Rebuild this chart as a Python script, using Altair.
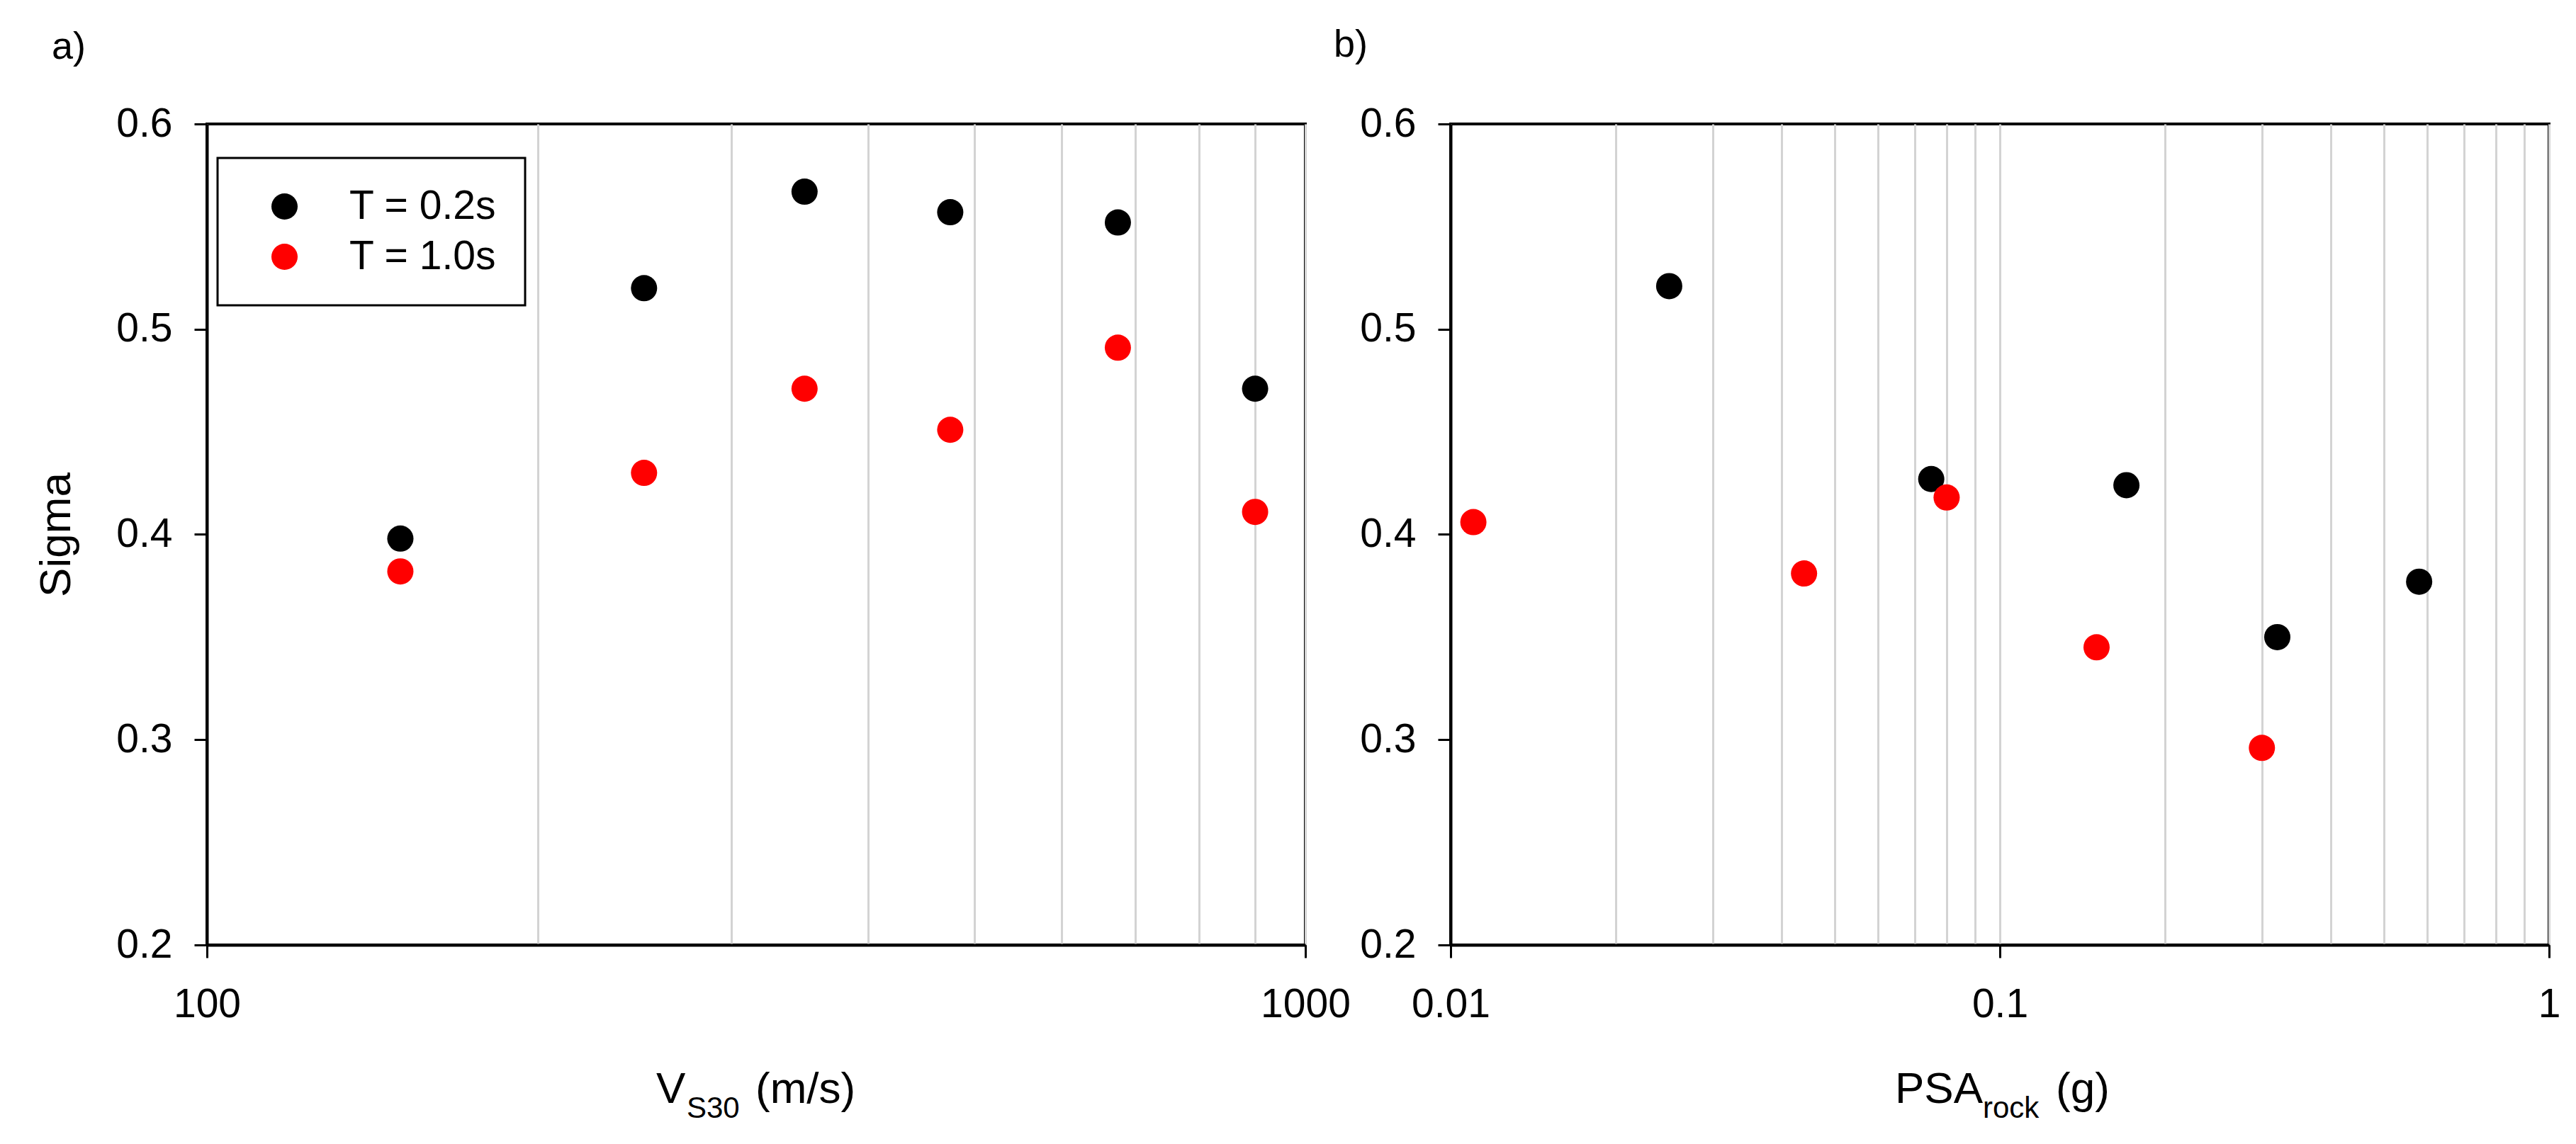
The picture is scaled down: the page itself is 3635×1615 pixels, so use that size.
import altair as alt
import pandas as pd

FONT = "Liberation Sans"

# ---- data ----
series = ["T = 0.2s", "T = 1.0s"]
colors = ["#000000", "#ff0000"]

vs30 = [150, 250, 350, 475, 675, 900]
sigma_vs30_t02 = [0.398, 0.520, 0.567, 0.557, 0.552, 0.471]
sigma_vs30_t10 = [0.382, 0.430, 0.471, 0.451, 0.491, 0.411]

psa_t02 = [0.025, 0.075, 0.17, 0.32, 0.58]
sigma_psa_t02 = [0.521, 0.427, 0.424, 0.350, 0.377]
psa_t10 = [0.011, 0.044, 0.08, 0.15, 0.30]
sigma_psa_t10 = [0.406, 0.381, 0.418, 0.345, 0.296]

y_ticks = [0.2, 0.3, 0.4, 0.5, 0.6]
vs30_grid = [100, 200, 300, 400, 500, 600, 700, 800, 900, 1000]
vs30_labels = [100, 1000]
psa_grid = [0.01, 0.02, 0.03, 0.04, 0.05, 0.06, 0.07, 0.08, 0.09,
            0.1, 0.2, 0.3, 0.4, 0.5, 0.6, 0.7, 0.8, 0.9, 1]
psa_labels = [0.01, 0.1, 1]

W, H = 1550, 1159
LBL = 57
TTL = 62
SUB = 42

df_a = pd.DataFrame({
    "x": vs30 + vs30,
    "y": sigma_vs30_t02 + sigma_vs30_t10,
    "series": [series[0]] * len(vs30) + [series[1]] * len(vs30),
})
df_b = pd.DataFrame({
    "x": psa_t02 + psa_t10,
    "y": sigma_psa_t02 + sigma_psa_t10,
    "series": [series[0]] * len(psa_t02) + [series[1]] * len(psa_t10),
})


def is_major(vals):
    return " || ".join(f"datum.value == {v}" for v in vals)


def x_axis(grid_vals, major_vals, fmt):
    test = is_major(major_vals)
    return alt.Axis(
        values=grid_vals, format=fmt,
        labelExpr=f"({test}) ? datum.label : ''",
        grid=True, gridColor="#d3d3d3", gridWidth=3,
        tickSize=18, tickWidth=3, tickColor="black",
        tickOpacity={"condition": {"test": test, "value": 1}, "value": 0},
        domainColor="black", domainWidth=4,
        labelFont=FONT, labelFontSize=LBL, labelColor="black",
        labelPadding=38, labelFlush=False, labelOverlap=False,
        title=None,
    )


def y_axis(title):
    kw = dict(
        values=y_ticks, format=".1f", grid=False,
        tickSize=18, tickWidth=3, tickColor="black",
        domainColor="black", domainWidth=4,
        labelFont=FONT, labelFontSize=LBL, labelColor="black",
        labelPadding=31, labelOverlap=False,
    )
    if title:
        kw.update(title=title, titleFont=FONT, titleFontSize=TTL,
                  titleFontWeight="normal", titleColor="black", titlePadding=52)
    else:
        kw.update(title=None)
    return alt.Axis(**kw)


color_scale = alt.Scale(domain=series, range=colors)

legend_a = alt.Legend(
    orient="none", legendX=15, legendY=48, title=None,
    padding=40, strokeColor="black", fillColor="white",
    symbolType="circle", symbolSize=1369, symbolOffset=26,
    symbolStrokeWidth=0, labelOffset=63, labelLimit=600,
    labelFont=FONT, labelFontSize=LBL, labelColor="black",
    rowPadding=13,
)


def text_piece(txt, x, y, size):
    return alt.Chart(pd.DataFrame({"t": [txt]})).mark_text(
        font=FONT, fontSize=size, align="left", baseline="alphabetic", color="black"
    ).encode(text="t:N", x=alt.value(x), y=alt.value(y))


pts_a = alt.Chart(df_a).mark_circle(size=1369, opacity=1).encode(
    x=alt.X("x:Q", scale=alt.Scale(type="log", domain=[100, 1000], nice=False),
            axis=x_axis(vs30_grid, vs30_labels, "d")),
    y=alt.Y("y:Q", scale=alt.Scale(domain=[0.2, 0.6], nice=False, zero=False),
            axis=y_axis("Sigma")),
    color=alt.Color("series:N", scale=color_scale, legend=legend_a),
)

panel_a = alt.layer(
    pts_a,
    text_piece("V", 634, 1382, TTL),
    text_piece("S30", 677, 1403, SUB),
    text_piece("(m/s)", 774, 1382, TTL),
    text_piece("a)", -219, -92, 54),
).properties(width=W, height=H)

pts_b = alt.Chart(df_b).mark_circle(size=1369, opacity=1).encode(
    x=alt.X("x:Q", scale=alt.Scale(type="log", domain=[0.01, 1], nice=False),
            axis=x_axis(psa_grid, psa_labels, "~g")),
    y=alt.Y("y:Q", scale=alt.Scale(domain=[0.2, 0.6], nice=False, zero=False),
            axis=y_axis(None)),
    color=alt.Color("series:N", scale=color_scale, legend=None),
)

panel_b = alt.layer(
    pts_b,
    text_piece("PSA", 627, 1382, TTL),
    text_piece("rock", 751, 1403, SUB),
    text_piece("(g)", 854, 1382, TTL),
    text_piece("b)", -165, -95, 54),
).properties(width=W, height=H)

chart = alt.hconcat(panel_a, panel_b, spacing=205, bounds="flush").resolve_legend(
    color="independent"
).properties(
    padding={"left": 38, "top": 27, "right": 10, "bottom": 10},
    background="white",
).configure_view(
    stroke="black", strokeWidth=4
).configure_legend(
    strokeWidth=3
)

chart.save("out.html", embed_options={"renderer": "svg", "actions": False})
